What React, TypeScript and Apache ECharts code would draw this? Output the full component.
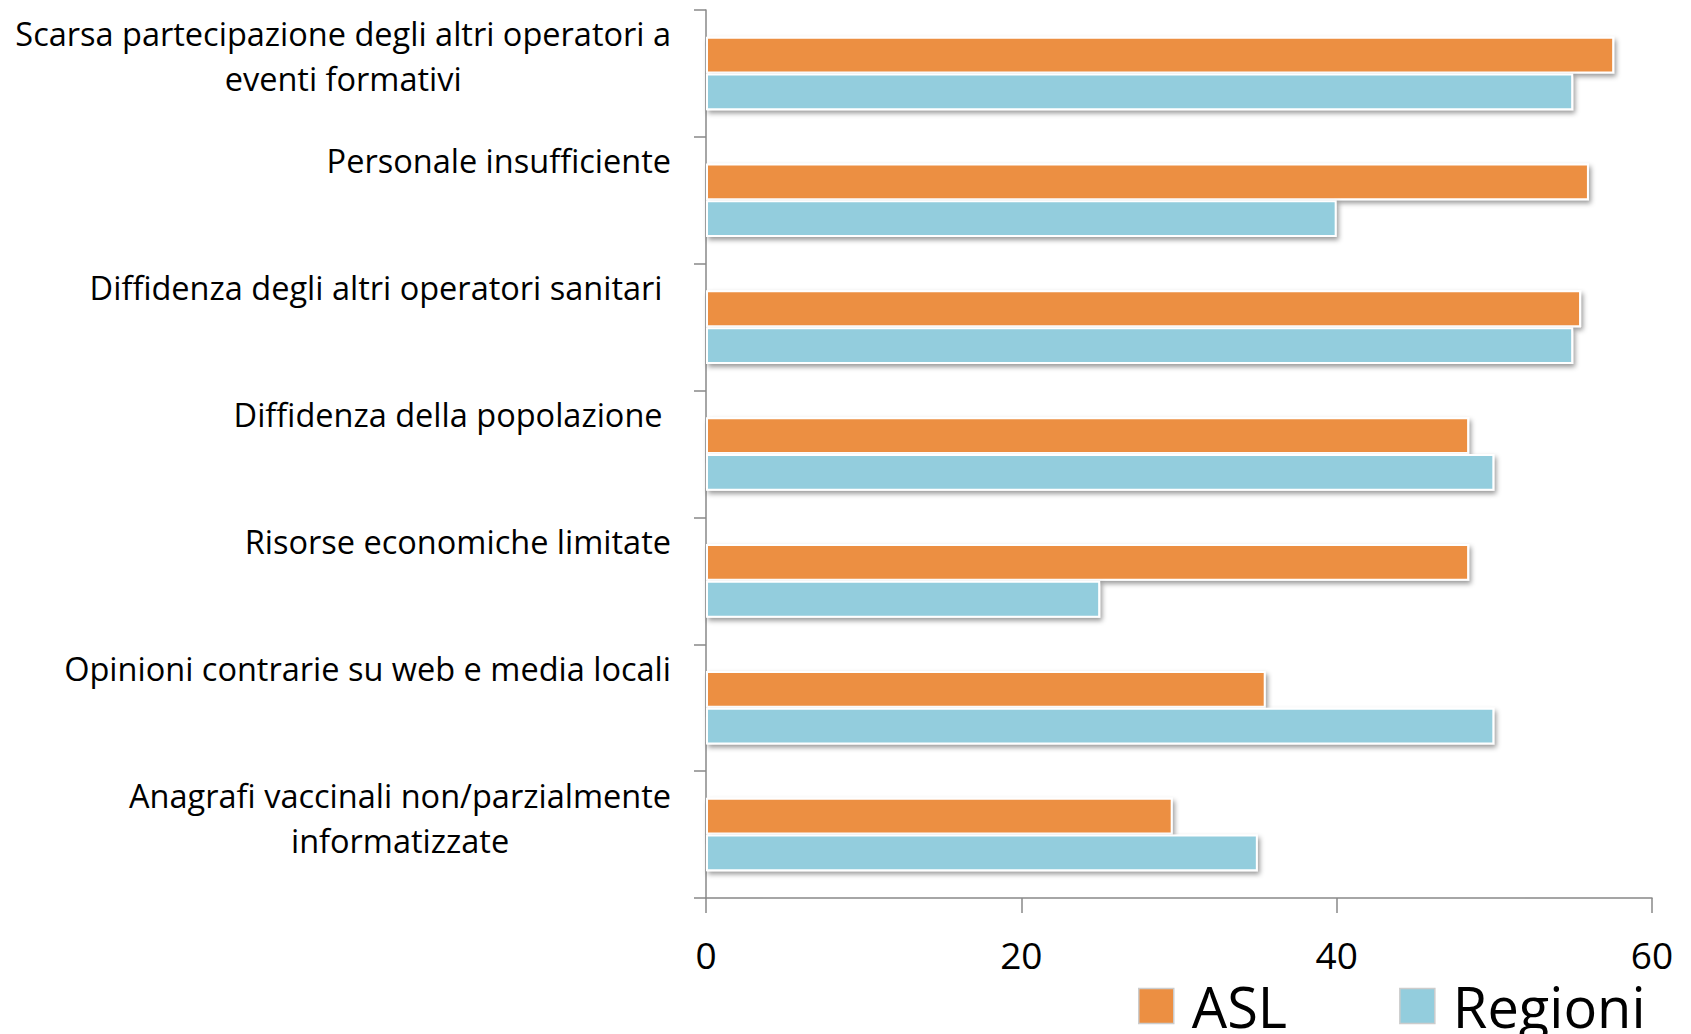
import React, { useEffect, useRef } from "react";
import * as echarts from "echarts";

const categories = [
  "Scarsa partecipazione degli altri operatori a\neventi formativi",
  "Personale insufficiente",
  "Diffidenza degli altri operatori sanitari ",
  "Diffidenza della popolazione ",
  "Risorse economiche limitate",
  "Opinioni contrarie su web e media locali",
  "Anagrafi vaccinali non/parzialmente\ninformatizzate",
];
const seriesNames = ["ASL", "Regioni"];
const aslValues = [57.6, 56.0, 55.5, 48.4, 48.4, 35.5, 29.6];
const regioniValues = [55, 40, 55, 50, 25, 50, 35];
const xTicks = { min: 0, max: 60, interval: 20 };

const FONT = "Open Sans";

export default function App() {
  const ref = useRef<HTMLDivElement>(null);
  useEffect(() => {
    document.body.style.margin = "0";
    const chart = echarts.init(ref.current!, null, { renderer: "svg" });
    const barStyle = (color: string) => ({
      color,
      borderColor: "#ffffff",
      borderWidth: 2,
      shadowColor: "rgba(0,0,0,0.4)",
      shadowBlur: 5,
      shadowOffsetX: 2,
      shadowOffsetY: 3,
    });
    chart.setOption({
      animation: false,
      backgroundColor: "#ffffff",
      grid: { left: 706, top: 10, width: 946, height: 888, containLabel: false },
      legend: {
        left: 1138,
        top: 978,
        padding: 0,
        itemWidth: 35,
        itemHeight: 35,
        itemGap: 112,
        icon: "rect",
        itemStyle: { borderColor: "#cccccc", borderWidth: 1.5, shadowBlur: 0, shadowColor: "transparent", shadowOffsetX: 0, shadowOffsetY: 0 },
        textStyle: { fontFamily: FONT, fontSize: 56, color: "#000", padding: [0, 0, 0, 13], lineHeight: 56 },
        data: seriesNames,
      },
      xAxis: {
        type: "value",
        min: xTicks.min,
        max: xTicks.max,
        interval: xTicks.interval,
        splitLine: { show: false },
        axisLine: { show: true, lineStyle: { color: "#888888", width: 1.5 } },
        axisTick: { show: true, length: 15, lineStyle: { color: "#888888", width: 1.5 } },
        axisLabel: { fontFamily: FONT, fontSize: 37, color: "#000", margin: 38 },
      },
      yAxis: {
        type: "category",
        inverse: true,
        data: categories,
        axisLine: { show: true, lineStyle: { color: "#888888", width: 1.5 } },
        axisTick: { show: true, length: 12, lineStyle: { color: "#888888", width: 1.5 } },
        axisLabel: {
          margin: 35,
          align: "right",
          verticalAlign: "top",
          padding: [-62, 0, 0, 0],
          fontFamily: FONT,
          fontSize: 32.5,
          lineHeight: 45,
          color: "#000",
          formatter: (v: string) => v.split("\n").map((l) => `{c|${l}}`).join("\n"),
          rich: {
            c: { align: "center", fontFamily: FONT, fontSize: 32.5, lineHeight: 45, color: "#000" },
          },
        },
      },
      series: [
        {
          name: seriesNames[0],
          type: "bar",
          data: aslValues,
          barGap: "0%",
          barCategoryGap: "42%",
          itemStyle: barStyle("#EC8F42"),
        },
        {
          name: seriesNames[1],
          type: "bar",
          data: regioniValues,
          barGap: "0%",
          barCategoryGap: "42%",
          itemStyle: barStyle("#93CDDD"),
        },
      ],
    });
    return () => chart.dispose();
  }, []);
  return (
    <div
      ref={ref}
      style={{ position: "absolute", left: 0, top: 0, width: 1691, height: 1034 }}
    />
  );
}
